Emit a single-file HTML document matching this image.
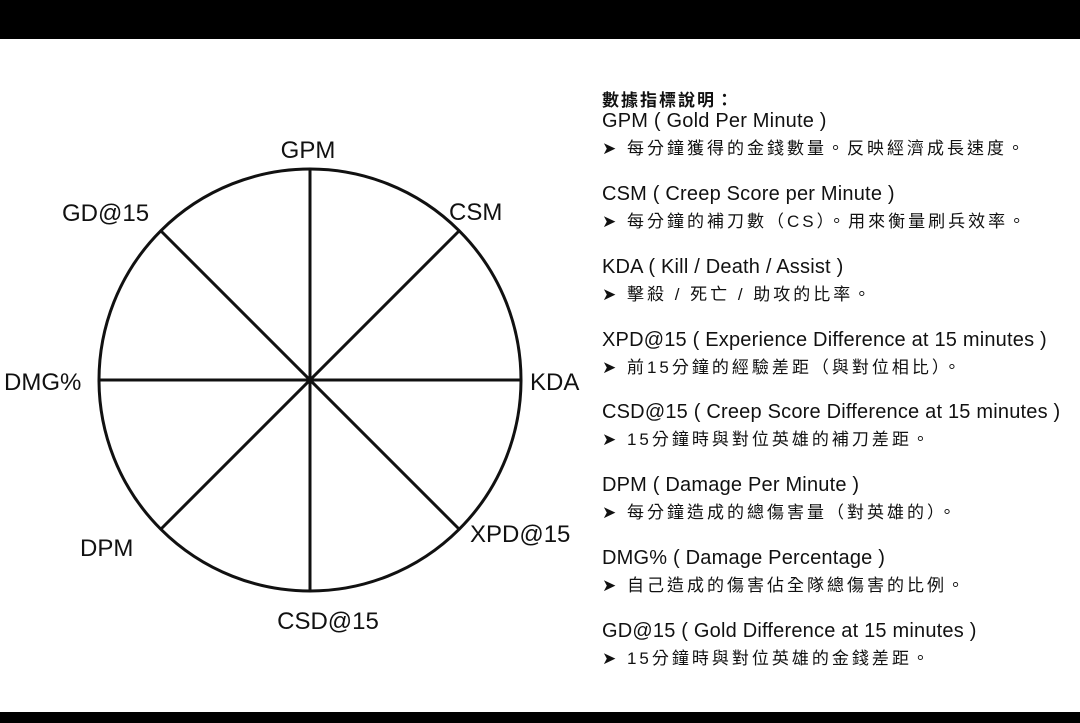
<!DOCTYPE html>
<html><head><meta charset="utf-8"><style>
body{margin:0;width:1080px;height:723px;background:#fff;overflow:hidden;position:relative;font-family:"Liberation Sans","Noto Sans CJK TC",sans-serif;color:#111}
.bar{position:absolute;left:0;width:1080px;background:#000}
.t{position:absolute;left:602px;white-space:nowrap}
.e{font-size:20px;letter-spacing:0.2px}
.c{font-size:17px;letter-spacing:3px}
</style></head><body>
<div class="bar" style="top:0;height:39px"></div>
<div class="bar" style="top:712px;height:11px"></div>
<svg width="1080" height="723" style="position:absolute;left:0;top:0">
<g stroke="#111" stroke-width="3" fill="none">
<circle cx="310" cy="380" r="211"/>
<line x1="310" y1="169" x2="310" y2="591"/>
<line x1="99" y1="380" x2="521" y2="380"/>
<line x1="161" y1="231" x2="459" y2="529"/>
<line x1="459" y1="231" x2="161" y2="529"/>
</g>
<g font-family="Liberation Sans,sans-serif" font-size="24" fill="#111">
<text x="308" y="158" text-anchor="middle">GPM</text>
<text x="449" y="220">CSM</text>
<text x="530" y="390">KDA</text>
<text x="470" y="542">XPD@15</text>
<text x="328" y="629" text-anchor="middle">CSD@15</text>
<text x="80" y="556">DPM</text>
<text x="4" y="390">DMG%</text>
<text x="62" y="221">GD@15</text>
</g>
</svg>
<div class="t" style="top:86px;font-size:17px;font-weight:bold;letter-spacing:2px">數據指標說明：</div>
<div class="t e" style="top:110px">GPM ( Gold Per Minute )</div>
<div class="t c" style="top:134px">➤ 每分鐘獲得的金錢數量。反映經濟成長速度。</div>
<div class="t e" style="top:183px">CSM ( Creep Score per Minute )</div>
<div class="t c" style="top:207px">➤ 每分鐘的補刀數（CS）。用來衡量刷兵效率。</div>
<div class="t e" style="top:256px">KDA ( Kill / Death / Assist )</div>
<div class="t c" style="top:280px">➤ 擊殺 / 死亡 / 助攻的比率。</div>
<div class="t e" style="top:329px">XPD@15 ( Experience Difference at 15 minutes )</div>
<div class="t c" style="top:353px">➤ 前15分鐘的經驗差距（與對位相比）。</div>
<div class="t e" style="top:401px">CSD@15 ( Creep Score Difference at 15 minutes )</div>
<div class="t c" style="top:425px">➤ 15分鐘時與對位英雄的補刀差距。</div>
<div class="t e" style="top:474px">DPM ( Damage Per Minute )</div>
<div class="t c" style="top:498px">➤ 每分鐘造成的總傷害量（對英雄的）。</div>
<div class="t e" style="top:547px">DMG% ( Damage Percentage )</div>
<div class="t c" style="top:571px">➤ 自己造成的傷害佔全隊總傷害的比例。</div>
<div class="t e" style="top:620px">GD@15 ( Gold Difference at 15 minutes )</div>
<div class="t c" style="top:644px">➤ 15分鐘時與對位英雄的金錢差距。</div>
</body></html>
